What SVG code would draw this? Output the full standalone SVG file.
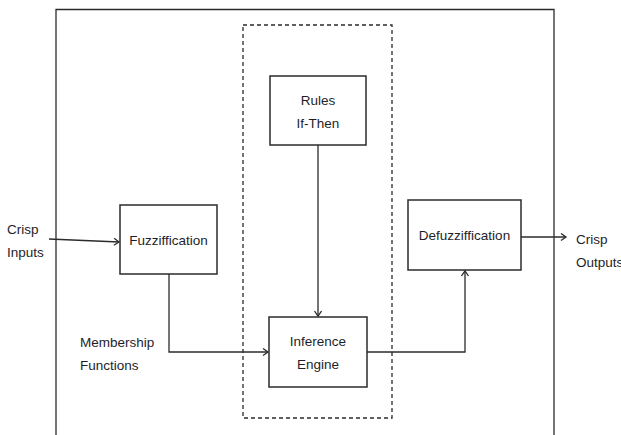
<svg xmlns="http://www.w3.org/2000/svg" width="621" height="435" viewBox="0 0 621 435">
<style>
.box{fill:#fff;stroke:#2b2b2b;stroke-width:1.5}
.ln{fill:none;stroke:#2b2b2b;stroke-width:1.3}
text{font-family:"Liberation Sans",Arial,sans-serif;font-size:13.5px;fill:#1e1e2a}
.c{text-anchor:middle}
</style>
<defs>
<marker id="ah" markerWidth="10" markerHeight="10" refX="7" refY="4" orient="auto" markerUnits="userSpaceOnUse">
<polyline points="2,0.5 7,4 2,7.5" fill="none" stroke="#2b2b2b" stroke-width="1.3"/>
</marker>
</defs>
<rect width="621" height="435" fill="#fff"/>
<path d="M56,436 V9.5 H554 V436" class="ln" stroke-width="1.5"/>
<rect x="243" y="25" width="149" height="393" fill="none" stroke="#2b2b2b" stroke-width="1.3" stroke-dasharray="4,3"/>
<g id="connectors">
<path class="ln" d="M49,239 L119,242" marker-end="url(#ah)"/>
<path class="ln" d="M318,145 V316" marker-end="url(#ah)"/>
<path class="ln" d="M169,274 V352 H268" marker-end="url(#ah)"/>
<path class="ln" d="M367,352 H465 V271" marker-end="url(#ah)"/>
<path class="ln" d="M521,237 H566" marker-end="url(#ah)"/>
</g>
<g id="crisp-inputs"><text x="7" y="234">Crisp</text><text x="7" y="257">Inputs</text></g>
<g id="fuzzification"><rect class="box" x="120" y="205" width="97" height="69"/><text class="c" x="168.5" y="245">Fuzziffication</text></g>
<g id="rules"><rect class="box" x="270" y="76" width="96" height="69"/><text class="c" x="318" y="105">Rules</text><text class="c" x="318" y="128">If-Then</text></g>
<g id="inference"><rect class="box" x="269" y="317" width="98" height="70"/><text class="c" x="318" y="346">Inference</text><text class="c" x="318" y="369">Engine</text></g>
<g id="defuzzification"><rect class="box" x="408" y="200" width="113" height="70"/><text class="c" x="464.5" y="240">Defuzziffication</text></g>
<g id="crisp-outputs"><text x="576" y="244">Crisp</text><text x="576" y="267">Outputs</text></g>
<g id="membership"><text x="80" y="347">Membership</text><text x="80" y="370">Functions</text></g>
</svg>
